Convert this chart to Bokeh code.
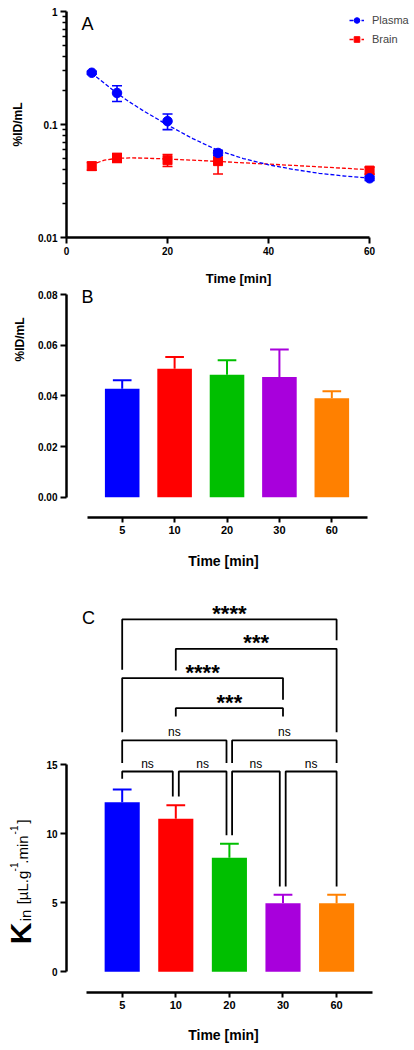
import math
from bokeh.plotting import figure
from bokeh.layouts import column, row
from bokeh.models import (Range1d, FixedTicker, NumeralTickFormatter, Label, Legend,
                          LegendItem, ColumnDataSource, Whisker, TeeHead)
from bokeh.embed import file_html
from bokeh.resources import INLINE
from bokeh.core.properties import value

FONT = "Liberation Sans"

# ---------------- data ----------------
# Panel A: concentration time course (%ID/mL), mean and SD
time_min = [5, 10, 20, 30, 60]
plasma_mean = [0.287, 0.190, 0.107, 0.056, 0.0334]
plasma_sd = [0.008, 0.030, 0.017, 0.003, 0.0015]
brain_mean = [0.0428, 0.0507, 0.0483, 0.0474, 0.0391]
brain_sd = [0.0034, 0.0046, 0.0058, 0.0109, 0.0027]

# fitted curves
fit_time = [5, 6, 7.5, 10, 12.5, 15, 20, 25, 30, 35, 40, 45, 50, 55, 60]
plasma_fit = [0.287, 0.262, 0.232, 0.189, 0.158, 0.134, 0.099, 0.075, 0.059, 0.050,
              0.044, 0.040, 0.037, 0.035, 0.0335]
brain_fit = [0.0428, 0.0458, 0.0484, 0.0502, 0.0506, 0.0505, 0.0495, 0.0483, 0.0471,
             0.0458, 0.0446, 0.0434, 0.0422, 0.0410, 0.0398]

# Panel B / C categories
time_labels = ["5", "10", "20", "30", "60"]
bar_colors = ["#0000FF", "#FF0000", "#00BF00", "#A800DC", "#FF8000"]

# Panel C: Kin (uL.g-1.min-1)
kin_mean = [12.29, 11.09, 8.26, 4.97, 4.97]
kin_sd = [0.92, 0.98, 1.02, 0.61, 0.61]

# Panel C: pairwise comparisons
comparisons = [(0, 1), (1, 2), (2, 3), (3, 4), (0, 2), (2, 4), (1, 3), (0, 3), (1, 4), (0, 4)]
significance = ["ns", "ns", "ns", "ns", "ns", "ns", "***", "****", "***", "****"]

# bracket layout (heights in axis units, end offsets in category units)
bracket_top = [14.51, 14.51, 14.51, 14.51, 16.76, 16.76, 19.1, 21.28, 23.4, 25.53]
bracket_left_bottom = [13.98, 12.7, 9.89, 6.18, 15.12, 15.12, 18.5, 17.36, 21.83, 21.88]
bracket_right_bottom = [12.7, 9.89, 6.18, 6.18, 15.12, 15.12, 18.5, 19.71, 17.36, 24.02]
bracket_left_off = [0, 0.056, 0.05, 0.05, 0, 0.05, 0, 0, 0, 0]
bracket_right_off = [-0.056, -0.054, -0.06, 0, -0.054, 0, 0, 0, 0, 0]


def style_axes(p):
    for ax in p.axis:
        ax.axis_line_width = 2.5
        ax.axis_line_color = "black"
        ax.major_tick_line_width = 2
        ax.major_tick_line_color = "black"
        ax.major_tick_in = 0
        ax.major_tick_out = 6
        ax.minor_tick_line_color = None
        ax.major_label_text_font = FONT
        ax.major_label_text_font_style = "bold"
        ax.major_label_text_color = "black"
        ax.axis_label_text_font = FONT
        ax.axis_label_text_font_style = "bold"
        ax.axis_label_text_color = "black"
    p.grid.visible = False
    p.outline_line_color = None


def label_panel(width, height):
    q = figure(width=width, height=height, x_range=Range1d(0, width), y_range=Range1d(0, height),
               x_axis_location=None, y_axis_location=None, output_backend="svg",
               toolbar_location=None, min_border=0)
    q.grid.visible = False
    q.outline_line_color = None
    return q


# ---------------- Panel A ----------------
pA = figure(width=410, height=288, x_range=Range1d(0, 68.1), y_range=Range1d(0.01, 1),
            y_axis_type="log", output_backend="svg", toolbar_location=None,
            min_border_left=66, min_border_right=0, min_border_top=11, min_border_bottom=49)
style_axes(pA)
pA.xaxis.ticker = FixedTicker(ticks=[0, 20, 40, 60])
pA.xaxis.bounds = (0, 60)
pA.xaxis.major_label_text_font_size = "10px"
pA.xaxis.major_label_standoff = 3
pA.xaxis.axis_label = "Time [min]"
pA.xaxis.axis_label_text_font_size = "13px"
pA.xaxis.axis_label_standoff = 13
pA.yaxis.ticker = FixedTicker(ticks=[0.01, 0.1, 1],
                              minor_ticks=[0.02, 0.03, 0.04, 0.05, 0.06, 0.07, 0.08, 0.09,
                                           0.2, 0.3, 0.4, 0.5, 0.6, 0.7, 0.8, 0.9])
pA.yaxis.bounds = (0.01, 1)
pA.yaxis.major_label_overrides = {0.01: "0.01", 0.1: "0.1", 1: "1"}
pA.yaxis.minor_tick_line_color = "black"
pA.yaxis.minor_tick_line_width = 1.5
pA.yaxis.minor_tick_in = 0
pA.yaxis.minor_tick_out = 4
pA.yaxis.major_label_text_font_size = "10px"
pA.yaxis.major_label_standoff = 3
pA.yaxis.axis_label = "%ID/mL"
pA.yaxis.axis_label_text_font_size = "12px"
pA.yaxis.axis_label_standoff = 10

src_b = ColumnDataSource(dict(x=time_min, lo=[m - s for m, s in zip(brain_mean, brain_sd)],
                              hi=[m + s for m, s in zip(brain_mean, brain_sd)]))
src_p = ColumnDataSource(dict(x=time_min, lo=[m - s for m, s in zip(plasma_mean, plasma_sd)],
                              hi=[m + s for m, s in zip(plasma_mean, plasma_sd)]))
for src, col in ((src_b, "#FF0000"), (src_p, "#0000FF")):
    pA.add_layout(Whisker(source=src, base="x", lower="lo", upper="hi", level="underlay",
                          line_color=col, line_width=1.6,
                          upper_head=TeeHead(size=10, line_color=col, line_width=1.6),
                          lower_head=TeeHead(size=10, line_color=col, line_width=1.6)))

br_line = pA.line(fit_time, brain_fit, line_color="#FF0000", line_width=1.3, line_dash="4 2")
br_pts = pA.scatter(time_min, brain_mean, marker="square", size=9, fill_color="#FF0000",
                    line_color="#FF0000")
pl_line = pA.line(fit_time, plasma_fit, line_color="#0000FF", line_width=1.3, line_dash="4 2")
pl_pts = pA.scatter(time_min, plasma_mean, marker="circle", size=9.5, fill_color="#0000FF",
                    line_color="#0000FF")

legend = Legend(items=[LegendItem(label="Plasma", renderers=[pl_line, pl_pts]),
                       LegendItem(label="Brain", renderers=[br_line, br_pts])],
                location=(281, 189), padding=2, margin=0, spacing=5,
                label_height=14, glyph_height=14, glyph_width=15, label_standoff=8,
                label_text_font=FONT, label_text_font_size="11px",
                background_fill_alpha=0, border_line_alpha=0)
pA.add_layout(legend)
pA.add_layout(Label(x=21, y=214, x_units="screen", y_units="screen", text="A",
                    text_align="center", text_baseline="middle", text_font=FONT,
                    text_font_size="18px", text_color="black"))

# ---------------- Panel B ----------------
idx = list(range(len(time_labels)))
pB = figure(width=380, height=284, x_range=Range1d(-1.063, 4.929), y_range=Range1d(-0.00801, 0.08237),
            output_backend="svg", toolbar_location=None,
            min_border_left=36, min_border_right=30, min_border_top=0, min_border_bottom=55)
style_axes(pB)
pB.vbar(x=idx, top=brain_mean, width=0.66, fill_color=bar_colors, line_color=None)
b_tops = [m + s for m, s in zip(brain_mean, brain_sd)]
pB.segment(x0=idx, y0=brain_mean, x1=idx, y1=b_tops, line_color=bar_colors, line_width=2)
pB.segment(x0=[i - 0.178 for i in idx], y0=b_tops, x1=[i + 0.178 for i in idx], y1=b_tops,
           line_color=bar_colors, line_width=2)
pB.xaxis.ticker = FixedTicker(ticks=idx)
pB.xaxis.major_label_overrides = {i: lab for i, lab in zip(idx, time_labels)}
pB.xaxis.bounds = (-0.662, 4.676)
pB.xaxis.major_tick_out = 5
pB.xaxis.major_label_standoff = 3
pB.xaxis.major_label_text_font_size = "11px"
pB.xaxis.axis_label = "Time [min]"
pB.xaxis.axis_label_text_font_size = "14px"
pB.xaxis.axis_label_standoff = 16
pB.yaxis.ticker = FixedTicker(ticks=[0, 0.02, 0.04, 0.06, 0.08])
pB.yaxis.formatter = NumeralTickFormatter(format="0.00")
pB.yaxis.bounds = (0, 0.08)
pB.yaxis.major_label_text_font_size = "10px"
pB.yaxis.major_label_standoff = 3
pB.add_layout(Label(x=21, y=221, x_units="screen", y_units="screen", text="B",
                    text_align="center", text_baseline="middle", text_font=FONT,
                    text_font_size="18px", text_color="black"))

pBL = label_panel(30, 284)
pBL.add_layout(Label(x=19, y=178, x_units="screen", y_units="screen", text="%ID/mL",
                     angle=math.pi / 2, text_align="center", text_baseline="middle",
                     text_font=FONT, text_font_size="12px", text_font_style="bold",
                     text_color="black"))

# ---------------- Panel C ----------------
pC = figure(width=370, height=476, x_range=Range1d(-1.039, 4.819), y_range=Range1d(-1.5, 26.9),
            output_backend="svg", toolbar_location=None,
            min_border_left=26, min_border_right=30, min_border_top=28, min_border_bottom=56)
style_axes(pC)
pC.vbar(x=idx, top=kin_mean, width=0.655, fill_color=bar_colors, line_color=None)
k_tops = [m + s for m, s in zip(kin_mean, kin_sd)]
pC.segment(x0=idx, y0=kin_mean, x1=idx, y1=k_tops, line_color=bar_colors, line_width=2)
pC.segment(x0=[i - 0.175 for i in idx], y0=k_tops, x1=[i + 0.175 for i in idx], y1=k_tops,
           line_color=bar_colors, line_width=2)

xs, ys, mids, tops = [], [], [], []
for (i, j), top, lb, rb, lo, ro in zip(comparisons, bracket_top, bracket_left_bottom,
                                       bracket_right_bottom, bracket_left_off, bracket_right_off):
    xl, xr = i + lo, j + ro
    xs.append([xl, xl, xr, xr])
    ys.append([lb, top, top, rb])
    mids.append((xl + xr) / 2)
    tops.append(top)
pC.multi_line(xs, ys, line_color="black", line_width=1.8)
ns_x = [m for m, s in zip(mids, significance) if s == "ns"]
ns_y = [t for t, s in zip(tops, significance) if s == "ns"]
st_x = [m for m, s in zip(mids, significance) if s != "ns"]
st_y = [t for t, s in zip(tops, significance) if s != "ns"]
st_t = [s for s in significance if s != "ns"]
pC.text(x=ns_x, y=ns_y, text=["ns"] * len(ns_x), text_font=value(FONT), text_font_size="12px",
        text_align="center", text_baseline="alphabetic", y_offset=-8, text_color="black")
pC.text(x=st_x, y=st_y, text=st_t, text_font=value(FONT), text_font_size="22px",
        text_font_style="bold", text_align="center", text_baseline="alphabetic", y_offset=-6,
        text_color="black")

pC.xaxis.ticker = FixedTicker(ticks=idx)
pC.xaxis.major_label_overrides = {i: lab for i, lab in zip(idx, time_labels)}
pC.xaxis.bounds = (-0.66, 4.664)
pC.xaxis.major_tick_out = 5
pC.xaxis.major_label_standoff = 3
pC.xaxis.major_label_text_font_size = "11px"
pC.xaxis.axis_label = "Time [min]"
pC.xaxis.axis_label_text_font_size = "14px"
pC.xaxis.axis_label_standoff = 15
pC.yaxis.ticker = FixedTicker(ticks=[0, 5, 10, 15])
pC.yaxis.bounds = (0, 15)
pC.yaxis.major_label_text_font_size = "10px"
pC.yaxis.major_label_standoff = 3
pC.add_layout(Label(x=22, y=375, x_units="screen", y_units="screen", text="C",
                    text_align="center", text_baseline="middle", text_font=FONT,
                    text_font_size="18px", text_color="black"))

# y label of C built from pieces (rotated, centred), in a narrow side panel
# (text, centre y from panel frame bottom, centre x, size, style)
pCL = label_panel(40, 476)
ylab_pieces = [("K", 59, 20, "30px", "bold"),
               ("in", 77, 25, "15px", "normal"),
               ("[\u00b5L.g", 105, 22, "15px", "normal"),
               ("-1", 125.5, 13, "10px", "normal"),
               (".min", 143, 22, "15px", "normal"),
               ("-1", 162.5, 13, "10px", "normal"),
               ("]", 171, 22, "15px", "normal")]
for txt, yy, xx, fs, st in ylab_pieces:
    pCL.add_layout(Label(x=xx, y=yy, x_units="screen", y_units="screen", text=txt,
                         angle=math.pi / 2, text_align="center", text_baseline="middle",
                         text_font=FONT, text_font_size=fs, text_font_style=st,
                         text_color="black"))

layout = column(pA, row(pBL, pB, spacing=0), row(pCL, pC, spacing=0), spacing=0)
open("out.html", "w").write(file_html(layout, INLINE))
